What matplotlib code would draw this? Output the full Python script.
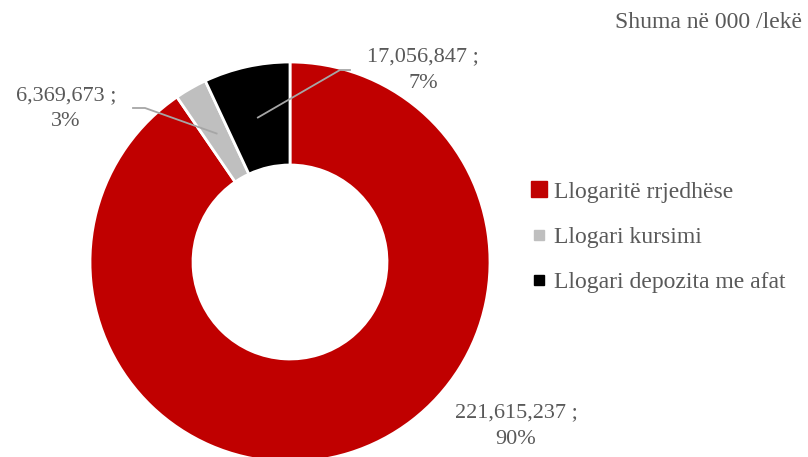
import numpy as np
import matplotlib
matplotlib.use("Agg")
import matplotlib.pyplot as plt
from matplotlib.lines import Line2D

plt.rcParams['font.family'] = ['Liberation Serif', 'DejaVu Serif']

categories = ["Llogaritë rrjedhëse", "Llogari kursimi", "Llogari depozita me afat"]
values = [221615237, 6369673, 17056847]
percents = ["90%", "3%", "7%"]
colors = ["#C00000", "#BFBFBF", "#000000"]
txt_color = "#595959"

W, H = 808, 457
fig = plt.figure(figsize=(W / 100, H / 100), dpi=100)
ax = fig.add_axes([0, 0, 1, 1])

cx, cy, R = 290, H - 262, 200
wedges, _ = ax.pie(values, colors=colors, startangle=90, counterclock=False,
                   center=(cx, cy), radius=R,
                   wedgeprops=dict(width=103, edgecolor="white", linewidth=2))
ax.set_xlim(0, W)
ax.set_ylim(0, H)
ax.set_aspect("equal")
ax.axis("off")

labels = [f"{v:,} ;\n{p}" for v, p in zip(values, percents)]

# label positions (pixels from top-left) and leader line elbows
label_pos = [(516, 426), (66, 109), (423, 70)]
elbows = [None, [(145, 108), (133, 108)], [(340, 70), (350, 70)]]

for w, lab, (lx, ly), elb in zip(wedges, labels, label_pos, elbows):
    ax.text(lx, H - ly, lab, ha="center", va="center", fontsize=16,
            color=txt_color, linespacing=1.5)
    if elb is not None:
        mid = np.deg2rad((w.theta1 + w.theta2) / 2)
        sx = cx + 0.74 * R * np.cos(mid)
        sy = cy + 0.74 * R * np.sin(mid)
        xs = [sx] + [p[0] for p in elb]
        ys = [sy] + [H - p[1] for p in elb]
        ax.plot(xs, ys, color="#A6A6A6", lw=1.3)

ax.text(802, H - 23, "Shuma në 000 /lekë", ha="right", va="center",
        fontsize=17, color=txt_color)

handles = [Line2D([], [], marker="s", ls="", color=c, markersize=ms)
           for c, ms in zip(colors, [12, 7, 7])]
ax.legend(handles, categories, loc="center left",
          bbox_to_anchor=(530 / W, (H - 237) / H), frameon=False,
          fontsize=17, labelcolor=txt_color, handlelength=0.8,
          handletextpad=0.2, labelspacing=1.0, borderpad=0, borderaxespad=0)

fig.savefig("out.png", dpi=100)
